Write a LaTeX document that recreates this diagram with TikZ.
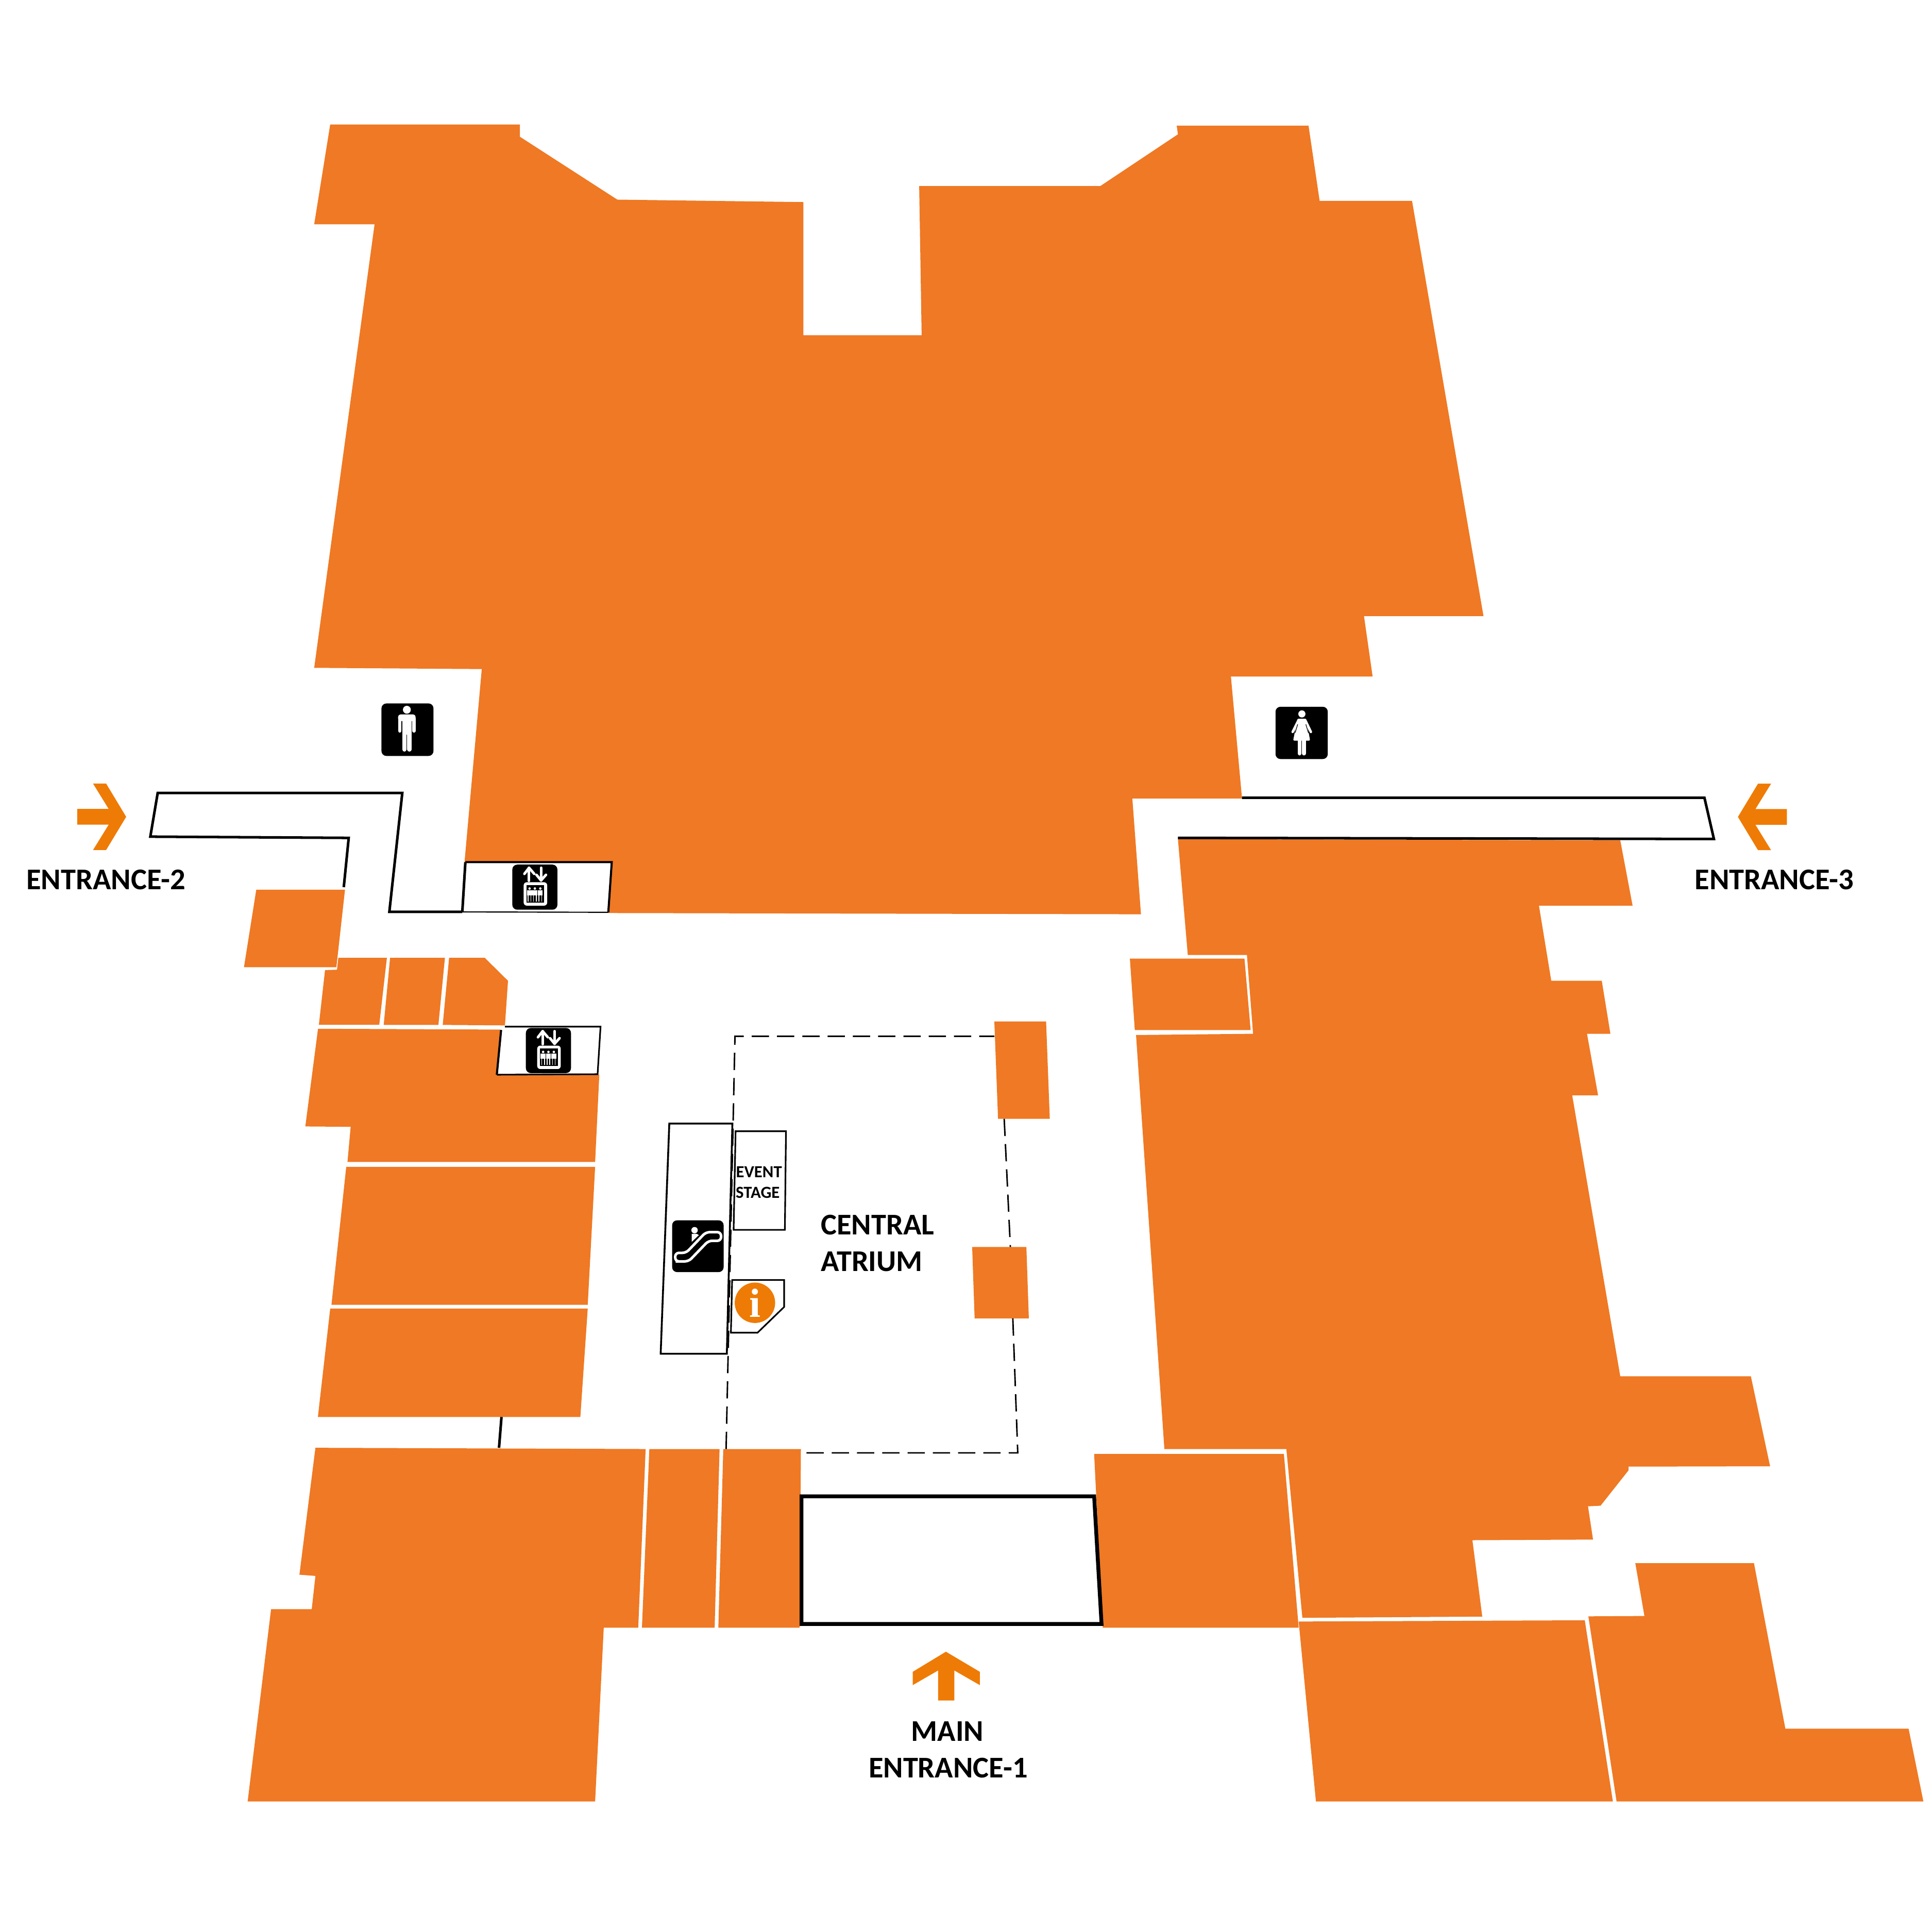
\documentclass[tikz,border=0pt]{standalone}
\usepackage{fontspec}
\setmainfont{Carlito}
\definecolor{shoporange}{HTML}{EF7924}
\definecolor{signorange}{HTML}{EE7B05}
\tikzset{
  shop/.style={fill=shoporange},
  sign/.style={fill=signorange},
  wall/.style={draw=black,line width=0.021cm},
  thinwall/.style={draw=black,line width=0.013cm},
  atrium/.style={draw=black,line width=0.012cm,dash pattern=on 0.14cm off 0.065cm},
  maplabel/.style={font=\fontsize{6.95}{8.5}\selectfont\bfseries,inner sep=0pt},
  iconline/.style={draw=white,line cap=round,line join=round}
}
\begin{document}
\begin{tikzpicture}[x=0.01cm,y=-0.01cm]

\useasboundingbox (0,0) rectangle (1568,1568);

% top block
\fill[shop] (268,101) -- (422,101) -- (422,111) -- (501,162) -- (652,164) -- (652,272) -- (748,272) -- (746,151) -- (893,151) -- (956,109) -- (955,102) -- (1062,102) -- (1071,163) -- (1146,163) -- (1204,500) -- (1107,500) -- (1114,549) -- (999,549) -- (1008,648) -- (919,648) -- (926,742) -- (493.7,741) -- (496.5,699.7) -- (377,699.7) -- (391,543) -- (255,542) -- (304,182) -- (255,182) -- cycle;

% left shops
\fill[shop] (208,722) -- (280,722) -- (273,785) -- (198,785) -- cycle;
\fill[shop] (274.6,777.3) -- (314,777.3) -- (307.8,831.7) -- (258.8,831.7) -- (263.8,787.3) -- (273.5,787) -- cycle;
\fill[shop] (316.6,777.3) -- (361.1,777.3) -- (355.8,831.8) -- (311.4,831.8) -- cycle;
\fill[shop] (364.5,777.3) -- (393.4,777.3) -- (412.3,796) -- (409.8,832.2) -- (359.3,831.8) -- cycle;
\fill[shop] (258.1,834.9) -- (406,835.6) -- (403.5,872.5) -- (486.4,872.2) -- (483,943) -- (282,943) -- (284.6,914.5) -- (247.8,914.2) -- cycle;
\fill[shop] (281,947) -- (483,947) -- (477,1059) -- (269,1059) -- cycle;
\fill[shop] (268,1062) -- (477,1062) -- (471,1150) -- (258,1150) -- cycle;

% bottom shops
\fill[shop] (256,1175) -- (524,1176) -- (518,1321) -- (490,1321) -- (483,1462) -- (201,1462) -- (220,1306) -- (253,1306) -- (256,1279) -- (243,1278) -- cycle;
\fill[shop] (527,1176) -- (584,1176) -- (580,1321) -- (521,1321) -- cycle;
\fill[shop] (587,1176) -- (650,1176) -- (649,1321) -- (583,1321) -- cycle;
\fill[shop] (888,1180) -- (1042,1180) -- (1054,1321) -- (895,1321) -- cycle;
\fill[shop] (1054,1316) -- (1286.2,1315) -- (1309,1462) -- (1068,1462) -- cycle;
\fill[shop] (1289.1,1311.8) -- (1334.6,1311.5) -- (1327.2,1268.6) -- (1423.5,1268.6) -- (1449,1403) -- (1549,1403) -- (1561,1462) -- (1312,1462) -- cycle;

% right block
\fill[shop] (956,681) -- (1315,682) -- (1325,735) -- (1249,735) -- (1259,796) -- (1300,796) -- (1307,839) -- (1288,839) -- (1297,889) -- (1276,889) -- (1315,1117) -- (1421,1117) -- (1436.6,1190) -- (1321.7,1190.3) -- (1321.7,1193.3) -- (1299,1222) -- (1288.8,1222.5) -- (1292.9,1249.5) -- (1195,1250) -- (1203,1312) -- (1057,1313) -- (1044,1176) -- (945,1176) -- (922,840) -- (1017,839) -- (1012,775) -- (964,775) -- cycle;
\fill[shop] (917,778) -- (1010,778) -- (1015,836) -- (921,836) -- cycle;

% pillars
\fill[shop] (807,829) -- (849,829) -- (852,908) -- (810,908) -- cycle;
\fill[shop] (789,1012) -- (833,1012) -- (835,1070) -- (791,1070) -- cycle;

% corridors
\draw[wall] (279,720) -- (283,680) -- (122,679) -- (128,643.5) -- (326.5,643.5) -- (316,740) -- (375.2,740);
\draw[wall] (1008,647.4) -- (1383.3,647.4) -- (1391,680.9) -- (956,680);
\draw[wall] (407,1150) -- (405,1175);
\draw[wall,line width=0.031cm] (650.5,1214.4) -- (888,1214.4) -- (894,1318) -- (650.5,1318) -- cycle;

% lift boxes
\draw[wall,line width=0.017cm] (377.7,699.7) -- (496.5,699.7) -- (493.7,740.4);
\draw[wall] (377.7,699.7) -- (375.2,740.1);
\draw[thinwall,line width=0.009cm] (375.2,740.1) -- (493.7,740.4);
\draw[thinwall] (409.8,833.2) -- (487.4,833.2) -- (485,871.8) -- (403.2,872.2);
\draw[wall,line width=0.017cm] (403.2,872.2) -- (406.7,835.9);

% atrium
\draw[atrium] (589.3,1176) -- (596.5,841) -- (807,841);
\draw[atrium] (815,908) -- (820,1012);
\draw[atrium] (822,1070) -- (826,1179.1) -- (653,1179.1);

% escalator, stage, info desk
\draw[thinwall,line width=0.015cm,fill=white] (543.2,911.9) -- (594.4,911.9) -- (589.9,1098.7) -- (536.2,1098.7) -- cycle;
\draw[thinwall] (597,918.1) -- (637.9,918.1) -- (637,998.1) -- (595.4,998.1) -- cycle;
\draw[thinwall] (594.2,1038.8) -- (636.4,1038.8) -- (636.4,1060.7) -- (614.8,1081.6) -- (593.2,1081.6) -- cycle;
\fill[sign] (612.7,1057.3) circle (16.4);
\node[font=\fontspec{Liberation Serif}\fontsize{9.4}{9.4}\selectfont\bfseries,text=white,inner sep=0pt] (infosign) at (612.7,1057.3) {i};

% lift icons
\foreach \x/\y in {434.1/720, 445.1/852.6} {
  \begin{scope}[shift={(\x,\y)}]
    \fill[black,rounded corners=0.04cm] (-18.3,-18.3) rectangle (18.3,18.3);
    \draw[iconline,line width=0.021cm] (-4.7,-5.2) -- (-4.7,-15.7);
    \draw[iconline,line width=0.021cm] (-8.5,-10.8) -- (-4.7,-15.7) -- (-0.5,-10.8);
    \draw[iconline,line width=0.021cm] (5,-15.7) -- (5,-5.5);
    \draw[iconline,line width=0.021cm] (1.3,-10) -- (5,-5.5) -- (9,-10);
    \fill[white,rounded corners=0.025cm] (-9.1,-4) rectangle (10,15);
    \fill[black] (-6.8,-1.7) rectangle (7.6,12.6);
    \foreach \p in {-4.3,0,4.4} {
      \fill[white] (\p,1.1) circle (1);
      \fill[white] ({\p-2},2.5) rectangle ({\p+2},6.7);
      \draw[white,line width=0.007cm] ({\p-1.1},6.5) -- ({\p-1.1},11.6);
      \draw[white,line width=0.007cm] ({\p+1.1},6.5) -- ({\p+1.1},11.6);
    }
  \end{scope}
}

% man
\begin{scope}[shift={(330.7,592.2)}]
  \fill[black,rounded corners=0.04cm] (-21.1,-21.3) rectangle (21.1,21.3);
  \fill[white] (-0.5,-16.2) circle (3.2);
  \fill[white,rounded corners=0.02cm] (-7.6,-12.4) rectangle (6.6,-7);
  \draw[iconline,line width=0.028cm] (-6.2,-9) -- (-6.2,1);
  \draw[iconline,line width=0.028cm] (5.2,-9) -- (5.2,1);
  \fill[white] (-4.25,-10) rectangle (3.4,4);
  \draw[iconline,line width=0.036cm] (-2.5,2) -- (-2.5,16);
  \draw[iconline,line width=0.036cm] (1.6,2) -- (1.6,16);
\end{scope}

% woman
\begin{scope}[shift={(1056.4,594.8)}]
  \fill[black,rounded corners=0.04cm] (-21.2,-21.2) rectangle (21.2,21.2);
  \fill[white] (0.2,-15.4) circle (2.9);
  \draw[iconline,line width=0.02cm] (-2.5,-10.4) -- (-7.3,-0.8);
  \draw[iconline,line width=0.02cm] (2.9,-10.4) -- (7.5,-0.8);
  \draw[iconline,line width=0.03cm] (-1.7,4) -- (-1.7,16.8);
  \draw[iconline,line width=0.03cm] (1.9,4) -- (1.9,16.8);
  \fill[white,rounded corners=0.01cm] (-3.4,-11.5) -- (3.6,-11.5) -- (6.9,6.3) -- (-6.9,6.3) -- cycle;
  \draw[black,line width=0.005cm] (-3.2,-7) -- (-5.3,0);
  \draw[black,line width=0.005cm] (3.4,-7) -- (5.5,0);
\end{scope}

% escalator icon
\begin{scope}[shift={(566.4,1011.4)}]
  \fill[black,rounded corners=0.04cm] (-20.9,-21) rectangle (20.9,21);
  \draw[white,line width=0.021cm,rounded corners=0.03cm] (-15.1,12.3) -- (-7.5,12.3) -- (8.6,-4.4) -- (18.8,-4.4) -- (18.8,-11.4) -- (6.5,-11.4) -- (-9.6,5.4) -- (-18.4,5.4) -- (-18.4,12.3) -- cycle;
  \fill[white] (-2.7,-13) circle (2.6);
  \fill[white] (-5,-10) -- (-0.8,-10) -- (0.8,-9) -- (-5,-3.5) -- cycle;
\end{scope}

% entrance arrows
\foreach \x/\y/\r in {102.4/662.9/180, 1410.5/663/0} {
  \fill[sign,shift={(\x,\y)},rotate=\r] (0,0) -- (16.3,27)  -- (26.9,27) -- (14.2,6.4) -- (39.7,6.4) -- (39.7,-6.4) -- (14.2,-6.4) -- (26.9,-27) -- (16.3,-27) -- cycle;
}
\fill[sign] (767.7,1340.5) -- (795.2,1356.8) -- (795.2,1367.6) -- (774.5,1355.7) -- (774.5,1380.1) -- (761.4,1380.1) -- (761.4,1355.7) -- (740.8,1367.6) -- (740.8,1356.8) -- cycle;

% labels
\node[maplabel] (entrancetwo) at (86,714) {ENTRANCE-2};
\node[maplabel] (entrancethree) at (1440,714) {ENTRANCE-3};
\node[maplabel] (mainone) at (769,1405) {MAIN};
\node[maplabel] (maintwo) at (769.5,1435) {ENTRANCE-1};
\node[maplabel,anchor=west] (atriumone) at (665.5,994) {CENTRAL};
\node[maplabel,anchor=west] (atriumtwo) at (665.5,1024) {ATRIUM};
\node[maplabel,font=\fontsize{3.9}{4.7}\selectfont\bfseries] (stageone) at (616,951) {EVENT};
\node[maplabel,font=\fontsize{3.9}{4.7}\selectfont\bfseries] (stagetwo) at (615,968) {STAGE};

\end{tikzpicture}
\end{document}
